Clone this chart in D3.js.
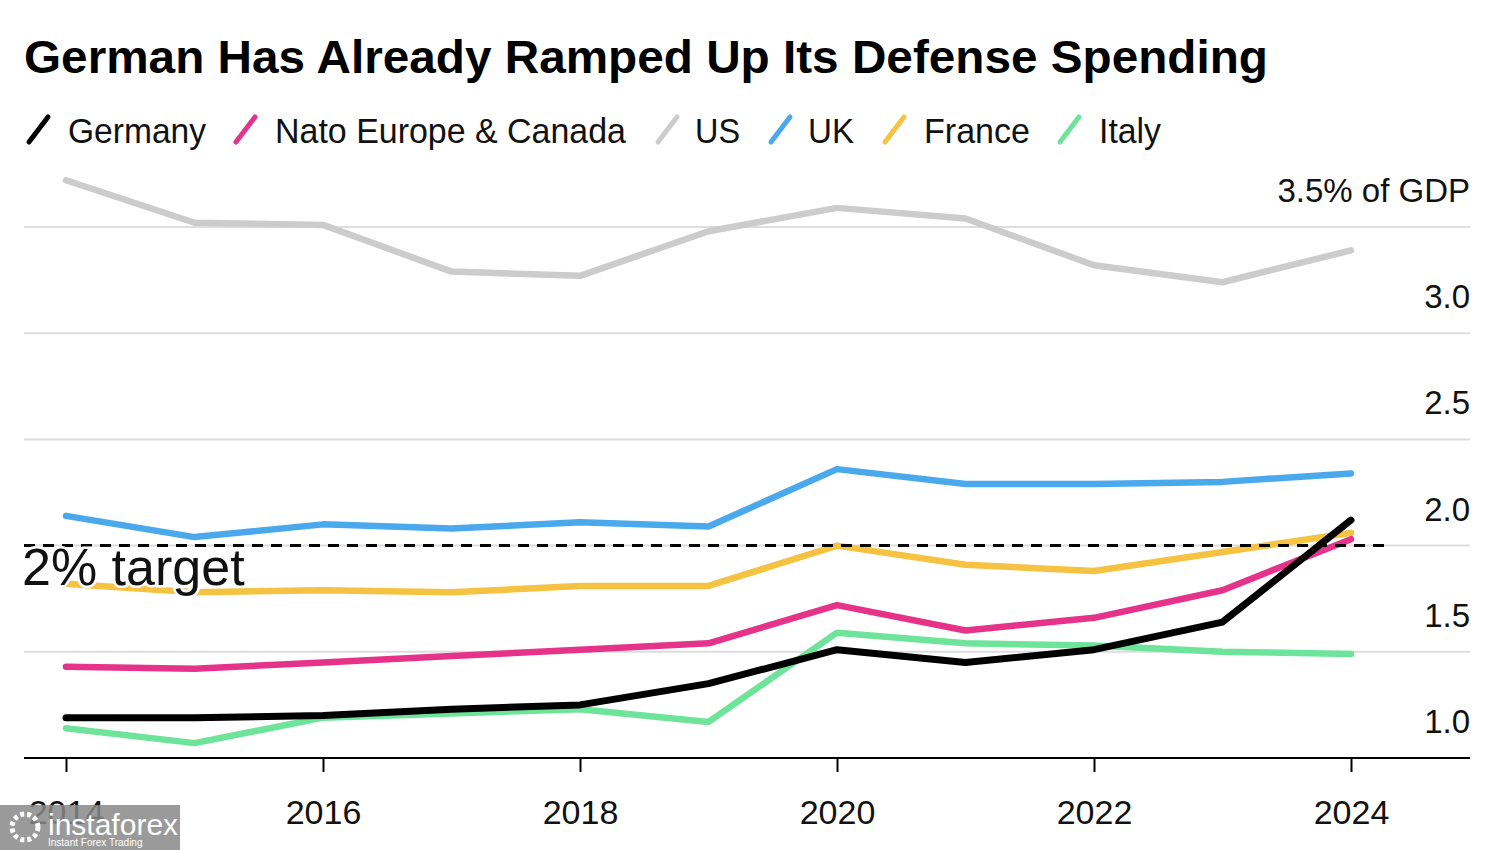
<!DOCTYPE html>
<html><head><meta charset="utf-8">
<script src="https://cdn.jsdelivr.net/npm/d3@7"></script>
<style>body{margin:0;background:#fff}svg{display:block}text{font-family:"Liberation Sans",Arial,sans-serif}</style>
</head><body><svg id="c" width="1500" height="850"></svg>
<script>
const years = [2014,2015,2016,2017,2018,2019,2020,2021,2022,2023,2024];
const germany = [1.19,1.19,1.20,1.23,1.25,1.35,1.51,1.45,1.51,1.64,2.12];
const natoEuropeCanada = [1.43,1.42,1.45,1.48,1.51,1.54,1.72,1.60,1.66,1.79,2.03];
const us = [3.72,3.52,3.51,3.29,3.27,3.48,3.59,3.54,3.32,3.24,3.39];
const uk = [2.14,2.04,2.10,2.08,2.11,2.09,2.36,2.29,2.29,2.30,2.34];
const france = [1.82,1.78,1.79,1.78,1.81,1.81,2.00,1.91,1.88,1.97,2.06];
const italy = [1.14,1.07,1.19,1.21,1.23,1.17,1.59,1.54,1.53,1.50,1.49];
const seriesNames = ["Germany","Nato Europe & Canada","US","UK","France","Italy"];
const seriesColors = ["#000000","#e5338a","#cccccc","#4aa8ec","#f5c242","#6de49a"];
const yTicks = [1.0,1.5,2.0,2.5,3.0,3.5];
const yTickLabels = ["1.0","1.5","2.0","2.5","3.0","3.5% of GDP"];
const xTicks = [2014,2016,2018,2020,2022,2024];
const target = 2.0;

const series = [germany,natoEuropeCanada,us,uk,france,italy];
const svg = d3.select("#c");
const x = d3.scaleLinear().domain([2014,2024]).range([66,1351]);
const y = d3.scaleLinear().domain([1.0,3.5]).range([758,227]);
const left = 24, right = 1470;

// title
svg.append("text").attr("x",24).attr("y",73).attr("font-size",47).attr("font-weight","bold")
  .attr("textLength",1244).attr("lengthAdjust","spacingAndGlyphs")
  .text("German Has Already Ramped Up Its Defense Spending");

// legend
const legendX = [26,233,655,768,882,1057];
const legendW = [138,351,45,46,106,62];
seriesNames.forEach((n,i)=>{
  const g = svg.append("g").attr("transform",`translate(${legendX[i]},0)`);
  g.append("line").attr("x1",3).attr("y1",142).attr("x2",22).attr("y2",117)
    .attr("stroke",seriesColors[i]).attr("stroke-width",5).attr("stroke-linecap","round");
  g.append("text").attr("x",i===2||i===3?40:42).attr("y",143).attr("font-size",35).attr("fill","#111")
    .attr("textLength",legendW[i]).attr("lengthAdjust","spacingAndGlyphs").text(n);
});

// gridlines (skip baseline)
yTicks.forEach((t,i)=>{
  if(i>0) svg.append("line").attr("x1",left).attr("x2",right).attr("y1",y(t)).attr("y2",y(t))
    .attr("stroke","#dddddd").attr("stroke-width",2);
  svg.append("text").attr("x",right).attr("y",y(t)-25).attr("text-anchor","end")
    .attr("font-size",33).attr("fill","#111").text(yTickLabels[i]);
});

// x axis
const xAxis = d3.axisBottom(x).tickValues(xTicks).tickFormat(d3.format("d")).tickSize(14).tickPadding(28);
const ax = svg.append("g").attr("transform",`translate(0,${y(1.0)})`).call(xAxis);
ax.select(".domain").remove();
ax.selectAll(".tick line").attr("stroke","#000").attr("stroke-width",2);
ax.selectAll(".tick text").attr("font-size",34).attr("fill","#111").attr("font-family","Liberation Sans, Arial, sans-serif");
svg.append("line").attr("x1",left).attr("x2",right).attr("y1",y(1.0)).attr("y2",y(1.0)).attr("stroke","#000").attr("stroke-width",2);

// lines
const lineGen = d3.line().x((d,i)=>x(years[i])).y(d=>y(d));
const order = [2,3,4,5,1,0];
order.forEach(i=>{
  svg.append("path").datum(series[i]).attr("d",lineGen).attr("fill","none")
    .attr("stroke",seriesColors[i]).attr("stroke-width",i===0?7:6.5).attr("stroke-linejoin","round").attr("stroke-linecap","round");
});

// target line
svg.append("line").attr("x1",left).attr("x2",1387).attr("y1",y(target)).attr("y2",y(target))
  .attr("stroke","#000").attr("stroke-width",3).attr("stroke-dasharray","11,8");
svg.append("text").attr("x",22).attr("y",585).attr("font-size",52).attr("fill","#111")
  .attr("stroke","#fff").attr("stroke-width",5).attr("paint-order","stroke").text("2% target");

// watermark
const wm = svg.append("g");
wm.append("rect").attr("x",0).attr("y",805).attr("width",180).attr("height",45).attr("fill","#888").attr("opacity",0.85);
wm.append("text").attr("x",48).attr("y",835).attr("font-size",30).attr("fill","#fff").text("instaforex");
wm.append("text").attr("x",48).attr("y",846).attr("font-size",10).attr("fill","#fff").text("Instant Forex Trading");
wm.append("circle").attr("cx",25).attr("cy",827).attr("r",13).attr("fill","none").attr("stroke","#fff").attr("stroke-width",5).attr("stroke-dasharray","4,3");
</script></body></html>
